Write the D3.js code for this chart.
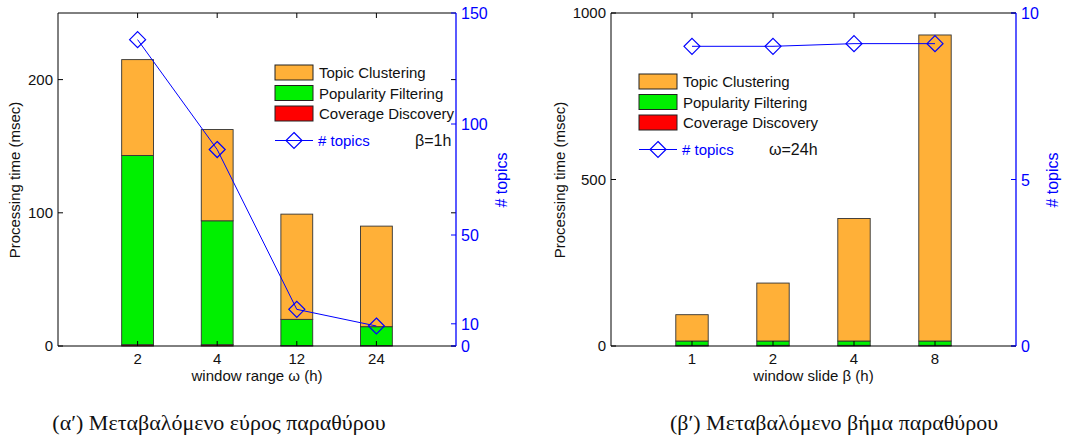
<!DOCTYPE html>
<html>
<head>
<meta charset="utf-8">
<script src="https://cdn.jsdelivr.net/npm/d3@7"></script>
<style>
  body { margin: 0; background: #fff; }
  text { font-family: "Liberation Sans", Arial, sans-serif; }
</style>
</head>
<body>
<svg id="chart" width="1081" height="443"></svg>
<script>
// panel (a): window range
var rangeCats = ["2", "4", "12", "24"];
var rangeCoverage = [1, 1, 0.3, 0.3];
var rangePopularity = [142, 93, 19.7, 14.2];
var rangeClustering = [72, 68.5, 79, 75.5];
var rangeTopics = [138, 88.5, 16.5, 9];

// panel (b): window slide
var slideCats = ["1", "2", "4", "8"];
var slideCoverage = [2, 2, 2, 2];
var slidePopularity = [13, 13, 13, 13];
var slideClustering = [79, 174, 368, 919];
var slideTopics = [9.0, 9.0, 9.08, 9.08];

var leftTicksA = [0, 100, 200];
var rightTicksA = [0, 10, 50, 100, 150];
var leftTicksB = [0, 500, 1000];
var rightTicksB = [0, 5, 10];

var seriesNames = ["Topic Clustering", "Popularity Filtering", "Coverage Discovery"];
var colors = {coverage: "#ff0000", popularity: "#00f000", clustering: "#ffb038"};

var svg = d3.select("#chart");
svg.append("rect").attr("width", 1081).attr("height", 443).attr("fill", "#fff");

function drawPanel(p) {
  var g = svg.append("g");
  var x = d3.scaleLinear().domain([0, p.cats.length + 1]).range([p.x0, p.x1]);
  var y = d3.scaleLinear().domain([0, p.yMax]).range([346, 13]);
  var y2 = d3.scaleLinear().domain([0, p.y2Max]).range([346, 13]);
  var bw = (x(1) - x(0)) * 0.4;

  var rows = p.cats.map(function(c, i) {
    return {cat: c, i: i + 1, cov: p.coverage[i], pop: p.popularity[i], clu: p.clustering[i], top: p.topics[i]};
  });
  var stack = d3.stack().keys(["cov", "pop", "clu"])(rows);
  var fill = {cov: colors.coverage, pop: colors.popularity, clu: colors.clustering};

  stack.forEach(function(layer) {
    g.selectAll(null).data(layer).enter().append("rect")
      .attr("x", function(d) { return x(d.data.i) - bw / 2; })
      .attr("y", function(d) { return y(d[1]); })
      .attr("width", bw)
      .attr("height", function(d) { return y(d[0]) - y(d[1]); })
      .attr("fill", fill[layer.key])
      .attr("stroke", "#333")
      .attr("stroke-width", 0.9);
  });

  // axes box
  g.append("line").attr("x1", p.x0).attr("x2", p.x1).attr("y1", 13).attr("y2", 13).attr("stroke", "#000");
  g.append("line").attr("x1", p.x0).attr("x2", p.x1).attr("y1", 346).attr("y2", 346).attr("stroke", "#000");
  g.append("line").attr("x1", p.x0).attr("x2", p.x0).attr("y1", 13).attr("y2", 346).attr("stroke", "#000");

  // x ticks (bottom and top, inward)
  rows.forEach(function(d) {
    g.append("line").attr("x1", x(d.i)).attr("x2", x(d.i)).attr("y1", 346).attr("y2", 341).attr("stroke", "#000");
    g.append("line").attr("x1", x(d.i)).attr("x2", x(d.i)).attr("y1", 13).attr("y2", 18).attr("stroke", "#000");
    g.append("text").attr("x", x(d.i)).attr("y", 364).attr("text-anchor", "middle")
      .attr("font-size", 15).attr("fill", "#111").text(d.cat);
  });

  // left ticks
  p.leftTicks.forEach(function(t) {
    g.append("line").attr("x1", p.x0).attr("x2", p.x0 + 5).attr("y1", y(t)).attr("y2", y(t)).attr("stroke", "#000");
    g.append("line").attr("x1", p.x1).attr("x2", p.x1 - 5).attr("y1", y(t)).attr("y2", y(t)).attr("stroke", "#000");
    g.append("text").attr("x", p.x0 - 5).attr("y", y(t) + 5).attr("text-anchor", "end")
      .attr("font-size", 15).attr("fill", "#111").text(t);
  });

  // right axis (blue)
  g.append("line").attr("x1", p.x1).attr("x2", p.x1).attr("y1", 13).attr("y2", 346).attr("stroke", "#0000ff").attr("stroke-width", 1.3);
  p.rightTicks.forEach(function(t) {
    g.append("line").attr("x1", p.x1).attr("x2", p.x1 - 5).attr("y1", y2(t)).attr("y2", y2(t)).attr("stroke", "#0000ff");
    g.append("text").attr("x", p.x1 + 5).attr("y", y2(t) + 6)
      .attr("font-size", 16).attr("fill", "#0000ff").text(t);
  });

  // axis titles
  g.append("text").attr("transform", "translate(" + p.yLabelX + ",180) rotate(-90)")
    .attr("text-anchor", "middle").attr("font-size", 15).attr("fill", "#111").text("Processing time (msec)");
  g.append("text").attr("transform", "translate(" + p.y2LabelX + ",180) rotate(-90)")
    .attr("text-anchor", "middle").attr("font-size", 16).attr("fill", "#0000ff").text("# topics");
  g.append("text").attr("x", (p.x0 + p.x1) / 2).attr("y", 381).attr("text-anchor", "middle")
    .attr("font-size", 15).attr("fill", "#111").text(p.xLabel);

  // topics line
  var line = d3.line().x(function(d) { return x(d.i); }).y(function(d) { return y2(d.top); });
  g.append("path").datum(rows).attr("d", line).attr("fill", "none").attr("stroke", "#0000ff").attr("stroke-width", 1);
  var diamond = function(cx, cy) {
    return "M" + cx + "," + (cy - 8) + "L" + (cx + 8) + "," + cy + "L" + cx + "," + (cy + 8) + "L" + (cx - 8) + "," + cy + "Z";
  };
  g.selectAll(null).data(rows).enter().append("path")
    .attr("d", function(d) { return diamond(x(d.i), y2(d.top)); })
    .attr("fill", "none").attr("stroke", "#0000ff").attr("stroke-width", 1.2);

  // legend
  var lx = p.legX, ly = p.legY;
  var legFill = [colors.clustering, colors.popularity, colors.coverage];
  seriesNames.forEach(function(name, i) {
    g.append("rect").attr("x", lx).attr("y", ly + i * 20.5).attr("width", 38).attr("height", 15)
      .attr("fill", legFill[i]).attr("stroke", "#222").attr("stroke-width", 1);
    g.append("text").attr("x", lx + 44).attr("y", ly + i * 20.5 + 13)
      .attr("font-size", 15).attr("fill", "#111").text(name);
  });
  var ry = ly + 3 * 20.5 + 14;
  g.append("line").attr("x1", lx).attr("x2", lx + 38).attr("y1", ry).attr("y2", ry).attr("stroke", "#0000ff");
  g.append("path").attr("d", diamond(lx + 19, ry)).attr("fill", "none").attr("stroke", "#0000ff").attr("stroke-width", 1.2);
  g.append("text").attr("x", lx + 43).attr("y", ry + 5).attr("font-size", 15).attr("fill", "#0000ff").text("# topics");
  g.append("text").attr("x", p.noteX).attr("y", ry + 5).attr("font-size", 16).attr("fill", "#111").text(p.note);

  // caption
  svg.append("text").attr("x", p.capX).attr("y", 430).attr("text-anchor", "middle")
    .attr("font-size", 22).attr("fill", "#111")
    .style("font-family", "'Liberation Serif', 'DejaVu Serif', serif").text(p.caption);
}

drawPanel({
  cats: rangeCats, coverage: rangeCoverage, popularity: rangePopularity, clustering: rangeClustering, topics: rangeTopics,
  x0: 58, x1: 456, yMax: 250, y2Max: 150, leftTicks: leftTicksA, rightTicks: rightTicksA,
  yLabelX: 20, y2LabelX: 507, xLabel: "window range \u03c9 (h)",
  legX: 275, legY: 65, note: "\u03b2=1h", noteX: 415,
  caption: "(\u03b1\u2032) \u039c\u03b5\u03c4\u03b1\u03b2\u03b1\u03bb\u03cc\u03bc\u03b5\u03bd\u03bf \u03b5\u03cd\u03c1\u03bf\u03c2 \u03c0\u03b1\u03c1\u03b1\u03b8\u03cd\u03c1\u03bf\u03c5", capX: 219
});

drawPanel({
  cats: slideCats, coverage: slideCoverage, popularity: slidePopularity, clustering: slideClustering, topics: slideTopics,
  x0: 611, x1: 1016, yMax: 1000, y2Max: 10, leftTicks: leftTicksB, rightTicks: rightTicksB,
  yLabelX: 565, y2LabelX: 1058, xLabel: "window slide \u03b2 (h)",
  legX: 639, legY: 74, note: "\u03c9=24h", noteX: 769,
  caption: "(\u03b2\u2032) \u039c\u03b5\u03c4\u03b1\u03b2\u03b1\u03bb\u03cc\u03bc\u03b5\u03bd\u03bf \u03b2\u03ae\u03bc\u03b1 \u03c0\u03b1\u03c1\u03b1\u03b8\u03cd\u03c1\u03bf\u03c5", capX: 834
});
</script>
</body>
</html>
